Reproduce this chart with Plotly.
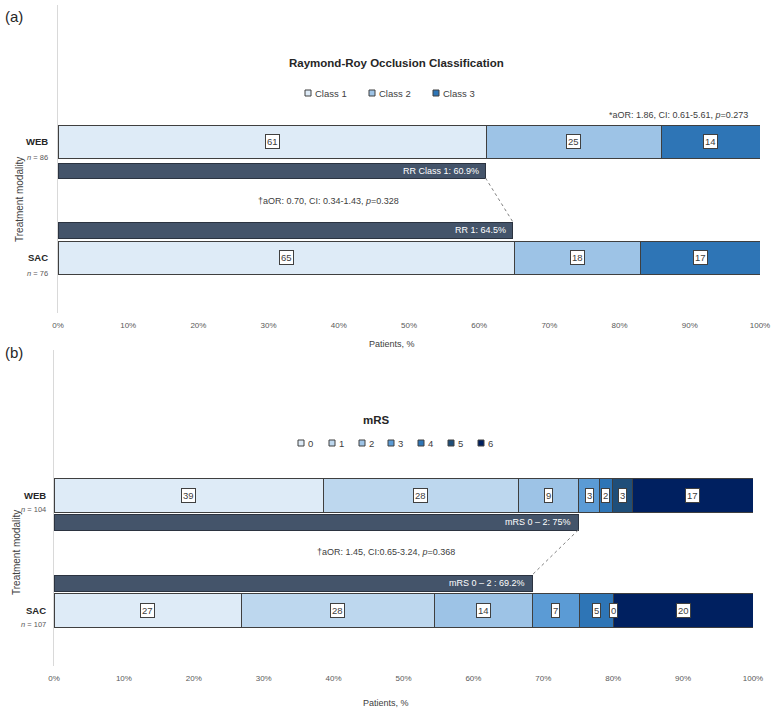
import numpy as np
import plotly.graph_objects as go

W, H = 777, 712
FONT = "Arial, 'Liberation Sans', sans-serif"
TXT = "#404040"

# ---------------- data: panel (a) Raymond-Roy occlusion ----------------
groups = ["WEB", "SAC"]
rr_n = [86, 76]
rr_classes = ["Class 1", "Class 2", "Class 3"]
rr_web = [61, 25, 14]
rr_sac = [65, 18, 17]
rr_web_labels = ["61", "25", "14"]
rr_sac_labels = ["65", "18", "17"]
rr_class1 = [60.9, 64.8]
rr_class1_text = ["RR Class 1: 60.9%", "RR 1: 64.5%"]
rr_stat_top = "*aOR: 1.86, CI: 0.61-5.61, <i>p</i>=0.273"
rr_stat_mid = "†aOR: 0.70, CI: 0.34-1.43, <i>p</i>=0.328"

# ---------------- data: panel (b) mRS ----------------
mrs_n = [104, 107]
mrs_scores = ["0", "1", "2", "3", "4", "5", "6"]
mrs_web = [38.5, 27.9, 8.7, 2.9, 1.9, 2.9, 17.2]
mrs_sac = [26.8, 27.6, 14.0, 6.8, 4.9, 0.0, 19.9]
mrs_web_labels = ["39", "28", "9", "3", "2", "3", "17"]
mrs_sac_labels = ["27", "28", "14", "7", "5", "0", "20"]
mrs_02 = [75.0, 68.4]
mrs_02_text = ["mRS 0 – 2: 75%", "mRS 0 – 2 : 69.2%"]
mrs_stat_mid = "†aOR: 1.45, CI:0.65-3.24, <i>p</i>=0.368"

x_ticks = list(range(0, 101, 10))
x_tick_labels = [f"{v}%" for v in x_ticks]

# ---------------- styles ----------------
rr_colors = ["#deebf7", "#9dc3e6", "#2e75b6"]
mrs_colors = ["#deebf7", "#bdd7ee", "#9dc3e6", "#5b9bd5", "#2e75b6", "#1f4e79", "#002060"]
DARK = "#44546a"


def px(x):
    return x / W


def py(y):
    return 1 - y / H


fig = go.Figure()
annotations = []
shapes = []

panels = [
    dict(key="", x0=58, x1=760, y0=5, y1=313, main=[141.5, 257.5], main_h=33,
         rr=[170.5, 230], rr_h=[15, 16],
         web=rr_web, sac=rr_sac, wl=rr_web_labels, sl=rr_sac_labels, colors=rr_colors,
         dark=rr_class1, dark_text=rr_class1_text, n=rr_n,
         title="Raymond-Roy Occlusion Classification", title_xy=(396, 63),
         legend_names=rr_classes, legend_x=[305, 369, 433], legend_y=93,
         panel_label="(a)", panel_label_y=17, ytitle_x=19, ytitle_y=200,
         grp_right=50, grp_dy=(-0.5, 15.5),
         stat_mid=rr_stat_mid, stat_mid_xy=(328, 201),
         xlabel_xy=(392, 344)),
    dict(key="2", x0=54, x1=753, y0=350, y1=666, main=[495, 610], main_h=34,
         rr=[522, 583], rr_h=[16, 16],
         web=mrs_web, sac=mrs_sac, wl=mrs_web_labels, sl=mrs_sac_labels, colors=mrs_colors,
         dark=mrs_02, dark_text=mrs_02_text, n=mrs_n,
         title="mRS", title_xy=(376, 420),
         legend_names=mrs_scores, legend_x=[298, 329, 359, 388, 418, 448, 478], legend_y=443,
         panel_label="(b)", panel_label_y=352, ytitle_x=16, ytitle_y=553,
         grp_right=48, grp_dy=(0, 14),
         stat_mid=mrs_stat_mid, stat_mid_xy=(386, 552),
         xlabel_xy=(386, 703)),
]

for p in panels:
    xa = "x" + p["key"]
    ya = "y" + p["key"]
    # stacked segments
    for i, col in enumerate(p["colors"]):
        fig.add_trace(go.Bar(
            x=[p["web"][i], p["sac"][i]], y=p["main"], width=p["main_h"],
            orientation="h", marker=dict(color=col, line=dict(color="#3f3f3f", width=1)),
            xaxis=xa, yaxis=ya, showlegend=False, hoverinfo="skip"))
    # summary dark bars
    fig.add_trace(go.Bar(
        x=p["dark"], y=p["rr"], width=p["rr_h"], orientation="h",
        marker=dict(color=DARK, line=dict(color="#2b3340", width=1)),
        xaxis=xa, yaxis=ya, showlegend=False, hoverinfo="skip"))
    # dashed connector
    fig.add_trace(go.Scatter(
        x=[p["dark"][0], p["dark"][1]],
        y=[p["rr"][0] + p["rr_h"][0] / 2, p["rr"][1] - p["rr_h"][1] / 2],
        mode="lines", line=dict(color="#808080", width=1, dash="dot"),
        xaxis=xa, yaxis=ya, showlegend=False, hoverinfo="skip"))

    xref = xa
    yref = ya
    # boxed value labels
    for vals, labs, yc in [(p["web"], p["wl"], p["main"][0]), (p["sac"], p["sl"], p["main"][1])]:
        cum = np.cumsum([0] + list(vals))
        for i, lab in enumerate(labs):
            mid = (cum[i] + cum[i + 1]) / 2
            annotations.append(dict(
                x=mid, y=yc, xref=xref, yref=yref, text=lab, showarrow=False,
                font=dict(family=FONT, size=9.5, color=TXT),
                bgcolor="white", bordercolor="#404040", borderwidth=1, borderpad=1))
    # dark bar texts
    for v, t, yc in zip(p["dark"], p["dark_text"], p["rr"]):
        annotations.append(dict(
            x=v, y=yc, xref=xref, yref=yref, text=t, showarrow=False, xanchor="right",
            xshift=-5, font=dict(family=FONT, size=9, color="white")))
    # group labels
    for g, n, yc in zip(groups, p["n"], p["main"]):
        annotations.append(dict(
            x=px(p["grp_right"]), y=py(yc + p["grp_dy"][0]), xref="paper", yref="paper",
            text=f"<b>{g}</b>", showarrow=False, xanchor="right", yanchor="middle",
            font=dict(family=FONT, size=9.5, color="#262626")))
        annotations.append(dict(
            x=px(p["grp_right"]), y=py(yc + p["grp_dy"][1]), xref="paper", yref="paper",
            text=f"<i>n</i> = {n}", showarrow=False, xanchor="right", yanchor="middle",
            font=dict(family=FONT, size=7.5, color="#595959")))
    # title
    annotations.append(dict(
        x=px(p["title_xy"][0]), y=py(p["title_xy"][1]), xref="paper", yref="paper",
        text=f"<b>{p['title']}</b>", showarrow=False, xanchor="center", yanchor="middle",
        font=dict(family=FONT, size=11.5, color="#262626")))
    # legend
    for name, lx, col in zip(p["legend_names"], p["legend_x"], p["colors"]):
        shapes.append(dict(
            type="rect", xref="paper", yref="paper",
            x0=px(lx), x1=px(lx + 6), y0=py(p["legend_y"] + 3), y1=py(p["legend_y"] - 3),
            fillcolor=col, line=dict(color="#404040", width=1)))
        annotations.append(dict(
            x=px(lx + 8), y=py(p["legend_y"]), xref="paper", yref="paper", text=name,
            showarrow=False, xanchor="left", yanchor="middle",
            font=dict(family=FONT, size=9.5, color=TXT)))
    # panel letter
    annotations.append(dict(
        x=px(3), y=py(p["panel_label_y"]), xref="paper", yref="paper", text=p["panel_label"],
        showarrow=False, xanchor="left", yanchor="middle",
        font=dict(family=FONT, size=15, color="#262626")))
    # y title
    annotations.append(dict(
        x=px(p["ytitle_x"]), y=py(p["ytitle_y"]), xref="paper", yref="paper",
        text="Treatment modality", textangle=-90, showarrow=False,
        xanchor="center", yanchor="middle", font=dict(family=FONT, size=10, color=TXT)))
    # x title
    annotations.append(dict(
        x=px(p["xlabel_xy"][0]), y=py(p["xlabel_xy"][1]), xref="paper", yref="paper",
        text="Patients, %", showarrow=False, xanchor="center", yanchor="middle",
        font=dict(family=FONT, size=9, color=TXT)))
    # stat annotation between bars
    annotations.append(dict(
        x=px(p["stat_mid_xy"][0]), y=py(p["stat_mid_xy"][1]), xref="paper", yref="paper",
        text=p["stat_mid"], showarrow=False, xanchor="center", yanchor="middle",
        font=dict(family=FONT, size=9, color=TXT)))

# top-right statistic of panel (a)
annotations.append(dict(
    x=px(750), y=py(115), xref="paper", yref="paper", text=rr_stat_top, showarrow=False,
    xanchor="right", yanchor="middle", font=dict(family=FONT, size=9, color=TXT)))

axis_common = dict(showgrid=False, zeroline=False, fixedrange=True, automargin=False)
xtick_common = dict(range=[0, 100], tickvals=x_ticks, ticktext=x_tick_labels, ticks="",
                    showline=False, ticklabelstandoff=6,
                    tickfont=dict(size=8, color="#595959"))
ycommon = dict(showticklabels=False, ticks="", showline=True, linecolor="#d9d9d9",
               linewidth=1)
pa, pb = panels
fig.update_layout(
    width=W, height=H, margin=dict(l=0, r=0, t=0, b=0, pad=0), autosize=False,
    paper_bgcolor="white", plot_bgcolor="white", barmode="stack",
    showlegend=False, font=dict(family=FONT, color=TXT),
    xaxis=dict(domain=[px(pa["x0"]), px(pa["x1"])], anchor="y", **xtick_common, **axis_common),
    yaxis=dict(domain=[py(pa["y1"]), py(pa["y0"])], range=[pa["y1"], pa["y0"]], anchor="x",
               **ycommon, **axis_common),
    xaxis2=dict(domain=[px(pb["x0"]), px(pb["x1"])], anchor="y2", **xtick_common, **axis_common),
    yaxis2=dict(domain=[py(pb["y1"]), py(pb["y0"])], range=[pb["y1"], pb["y0"]], anchor="x2",
                **ycommon, **axis_common),
    annotations=annotations, shapes=shapes,
)

fig.write_html(
    "out.html",
    config={"responsive": False, "displayModeBar": False},
    post_script="document.body.style.margin='0';document.body.style.overflow='hidden';"
                "document.documentElement.style.overflow='hidden';",
)
